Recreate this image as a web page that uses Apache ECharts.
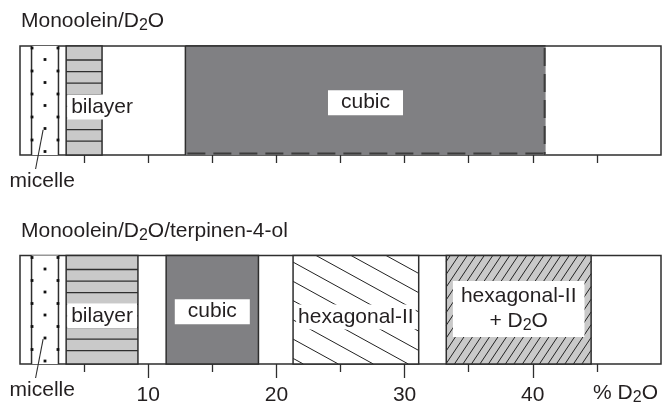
<!DOCTYPE html>
<html><head><meta charset="utf-8">
<script src="https://cdn.jsdelivr.net/npm/echarts@6/dist/echarts.min.js"></script>
<style>html,body{margin:0;padding:0;background:#fff}#c{width:662px;height:408px}</style>
</head><body><div id="c"></div>
<script>
// ---- data ----
const xTickLabels = ['10', '20', '30', '40'];
const xMajorTicks = [10, 20, 30, 40];
const xMinorTicks = [5, 15, 25, 35, 45];
const panel1Ticks = [5, 10, 15, 20, 25, 30, 35, 40, 45];

const panel1Phase = ['micelle', 'bilayer', 'cubic'];
const panel1Start = [0.9, 3.6, 12.9];
const panel1End = [3.0, 6.4, 41.0];
const panel1Label = ['', 'bilayer', 'cubic'];
const panel1LabelY = [0, 0.44, 0.48];

const panel2Phase = ['micelle', 'bilayer', 'cubic', 'hexagonal', 'hexwater'];
const panel2Start = [0.9, 3.6, 11.4, 21.3, 33.25];
const panel2End = [3.0, 9.2, 18.6, 31.1, 44.55];
const panel2Label = ['', 'bilayer', 'cubic', 'hexagonal-II', 'hexagonal-II\n+ D{s|2}O'];
const panel2LabelY = [0, 0.445, 0.482, 0.433, 0.507];

const title1 = 'Monoolein/D{s|2}O';
const title2 = 'Monoolein/D{s|2}O/terpinen-4-ol';
const axisTitle = '% D{s|2}O';
const micelleText = 'micelle';

// ---- style ----
const FONT = '"Liberation Sans", Arial, Helvetica, sans-serif';
const INK = '#231f20';
const EDGE = '#2e2e2e';
const LIGHT = '#c9c9c9';
const DARK = '#808083';
const FS = 21;
const SUB = { fontSize: 16, lineHeight: 8, verticalAlign: 'bottom', fontFamily: FONT, fill: INK };

function clipSeg(x0, y0, dx, dy, r) {
  let t0 = -1e5, t1 = 1e5;
  const p = [-dx, dx, -dy, dy];
  const q = [x0 - r.x, r.x + r.width - x0, y0 - r.y, r.y + r.height - y0];
  for (let k = 0; k < 4; k++) {
    if (p[k] === 0) { if (q[k] < 0) return null; continue; }
    const t = q[k] / p[k];
    if (p[k] < 0) { if (t > t0) t0 = t; } else { if (t < t1) t1 = t; }
  }
  if (t0 >= t1) return null;
  return { x1: x0 + t0 * dx, y1: y0 + t0 * dy, x2: x0 + t1 * dx, y2: y0 + t1 * dy };
}
function hatch(r, slope, spacing, offset, color, width) {
  const out = [];
  const span = r.height / Math.abs(slope);
  const from = slope > 0 ? r.x - span : r.x;
  const to = slope > 0 ? r.x + r.width : r.x + r.width + span;
  let xi = r.x + offset;
  while (xi > from) xi -= spacing;
  for (; xi < to + spacing; xi += spacing) {
    const s = clipSeg(xi, r.y, 1, slope, r);
    if (s) out.push({ type: 'line', shape: s, style: { stroke: color, lineWidth: width } });
  }
  return out;
}
function line(x1, y1, x2, y2, w, dash, color) {
  return { type: 'line', shape: { x1, y1, x2, y2 }, style: { stroke: color || EDGE, lineWidth: w, lineDash: dash || null } };
}

function makeRender(phases, labels, labelY, dashedCubic) {
  return function (params, api) {
    const i = params.dataIndex;
    const a = api.coord([api.value(0), 1]);
    const b = api.coord([api.value(1), 0]);
    const r = { x: a[0], y: a[1], width: b[0] - a[0], height: b[1] - a[1] };
    const kind = phases[i];
    const ch = [];
    if (kind === 'micelle') {
      ch.push({ type: 'rect', shape: r, style: { fill: '#fff' } });
      ch.push(line(r.x, r.y, r.x, r.y + r.height, 1.5));
      ch.push(line(r.x + r.width, r.y, r.x + r.width, r.y + r.height, 1.5));
      for (let k = 0; r.y + 2 + k * 11.5 < r.y + r.height; k++) {
        const yy = r.y + 2 + k * 11.5;
        const xs = k % 2 === 0 ? [r.x + 0.5, r.x + r.width - 0.5] : [r.x + r.width / 2];
        xs.forEach(xx => ch.push({ type: 'rect', shape: { x: xx - 1.4, y: yy - 1.4, width: 2.8, height: 2.8 }, style: { fill: '#111' } }));
      }
      ch.push(line(r.x + 0.43 * r.width, r.y + 0.77 * r.height, r.x + 0.15 * r.width, r.y + r.height + 14, 1.1));
      ch.push({ type: 'text', style: { text: micelleText, x: r.x - 22, y: r.y + r.height + 37, align: 'left', verticalAlign: 'bottom', fontSize: FS, fontFamily: FONT, fill: INK } });
    } else if (kind === 'bilayer') {
      ch.push({ type: 'rect', shape: r, style: { fill: LIGHT } });
      for (let k = 0; r.y + 14 + k * 11.6 < r.y + r.height - 4; k++) {
        const yy = r.y + 14 + k * 11.6;
        ch.push(line(r.x, yy, r.x + r.width, yy, 1.3));
      }
      ch.push({ type: 'rect', shape: r, style: { fill: 'none', stroke: EDGE, lineWidth: 1.5 } });
    } else if (kind === 'cubic') {
      ch.push({ type: 'rect', shape: r, style: { fill: DARK } });
      if (dashedCubic) {
        ch.push(line(r.x, r.y, r.x, r.y + r.height, 1.5));
        ch.push(line(r.x, r.y, r.x + r.width, r.y, 1.5));
        ch.push(line(r.x + 2, r.y + r.height - 1.5, r.x + r.width, r.y + r.height - 1.5, 2, [18, 8], '#3c3c3c'));
        ch.push(line(r.x + r.width - 1, r.y + 2, r.x + r.width - 1, r.y + r.height, 2, [18, 8], '#3c3c3c'));
      } else {
        ch.push({ type: 'rect', shape: r, style: { fill: 'none', stroke: EDGE, lineWidth: 1.5 } });
      }
    } else if (kind === 'hexagonal') {
      ch.push({ type: 'rect', shape: r, style: { fill: '#fff' } });
      hatch(r, 0.55, 35, 23, '#222', 1).forEach(e => ch.push(e));
      ch.push({ type: 'rect', shape: r, style: { fill: 'none', stroke: EDGE, lineWidth: 1.5 } });
    } else if (kind === 'hexwater') {
      ch.push({ type: 'rect', shape: r, style: { fill: LIGHT } });
      hatch(r, -1.5, 8.5, 4, '#222', 1).forEach(e => ch.push(e));
      ch.push({ type: 'rect', shape: r, style: { fill: 'none', stroke: EDGE, lineWidth: 1.5 } });
    }
    const txt = labels[i];
    if (txt) {
      const ly = api.coord([0, labelY[i]])[1];
      const leftAligned = kind === 'bilayer';
      const two = txt.indexOf('\n') >= 0;
      const pad = kind === 'cubic' ? 13 : kind === 'hexagonal' ? 2 : kind === 'hexwater' ? 8 : 4;
      ch.push({
        type: 'text', z2: 10,
        style: {
          text: txt, x: leftAligned ? r.x + 1 : r.x + r.width / 2, y: ly,
          align: leftAligned ? 'left' : 'center', verticalAlign: 'middle',
          fontSize: FS, fontFamily: FONT, fill: INK, lineHeight: two ? 25 : 23,
          backgroundColor: '#fff', padding: two ? [3, pad, 3, pad] : [1, pad, 1, pad],
          rich: { s: SUB }
        }
      });
    }
    return { type: 'group', children: ch };
  };
}

const chart = echarts.init(document.getElementById('c'));
const tickStyle = { color: EDGE, width: 1.3 };
const baseX = { type: 'value', min: 0, max: 50, axisLine: { show: false }, splitLine: { show: false } };
chart.setOption({
  animation: false,
  grid: [
    { left: 20, right: 1, top: 46, height: 109, show: true, borderColor: EDGE, borderWidth: 1.5 },
    { left: 20, right: 1, top: 255.5, height: 108.5, show: true, borderColor: EDGE, borderWidth: 1.5 }
  ],
  xAxis: [
    Object.assign({}, baseX, { gridIndex: 0, axisLabel: { show: false }, axisTick: { show: true, customValues: panel1Ticks, length: 8, lineStyle: tickStyle } }),
    Object.assign({}, baseX, { gridIndex: 1, position: 'bottom',
      axisTick: { show: true, customValues: xMajorTicks, length: 14, lineStyle: tickStyle },
      axisLabel: { show: true, customValues: xMajorTicks, margin: 21, fontSize: FS, fontFamily: FONT, color: INK,
        formatter: v => xTickLabels[xMajorTicks.indexOf(v)] } }),
    Object.assign({}, baseX, { gridIndex: 1, position: 'bottom', axisLabel: { show: false },
      axisTick: { show: true, customValues: xMinorTicks, length: 8, lineStyle: tickStyle } })
  ],
  yAxis: [
    { gridIndex: 0, type: 'value', min: 0, max: 1, show: false },
    { gridIndex: 1, type: 'value', min: 0, max: 1, show: false }
  ],
  graphic: [
    { type: 'text', left: 21, top: 9, style: { text: title1, fontSize: FS, lineHeight: 25, fontFamily: FONT, fill: INK, rich: { s: SUB } } },
    { type: 'text', left: 21, top: 219, style: { text: title2, fontSize: FS, lineHeight: 25, fontFamily: FONT, fill: INK, rich: { s: SUB } } },
    { type: 'text', right: 4, top: 381, style: { text: axisTitle, fontSize: FS, lineHeight: 25, fontFamily: FONT, fill: INK, rich: { s: SUB } } }
  ],
  series: [
    { type: 'custom', xAxisIndex: 0, yAxisIndex: 0, renderItem: makeRender(panel1Phase, panel1Label, panel1LabelY, true),
      encode: { x: [0, 1] }, data: panel1Start.map((s, i) => [s, panel1End[i]]) },
    { type: 'custom', xAxisIndex: 1, yAxisIndex: 1, renderItem: makeRender(panel2Phase, panel2Label, panel2LabelY, false),
      encode: { x: [0, 1] }, data: panel2Start.map((s, i) => [s, panel2End[i]]) }
  ]
});
</script></body></html>
